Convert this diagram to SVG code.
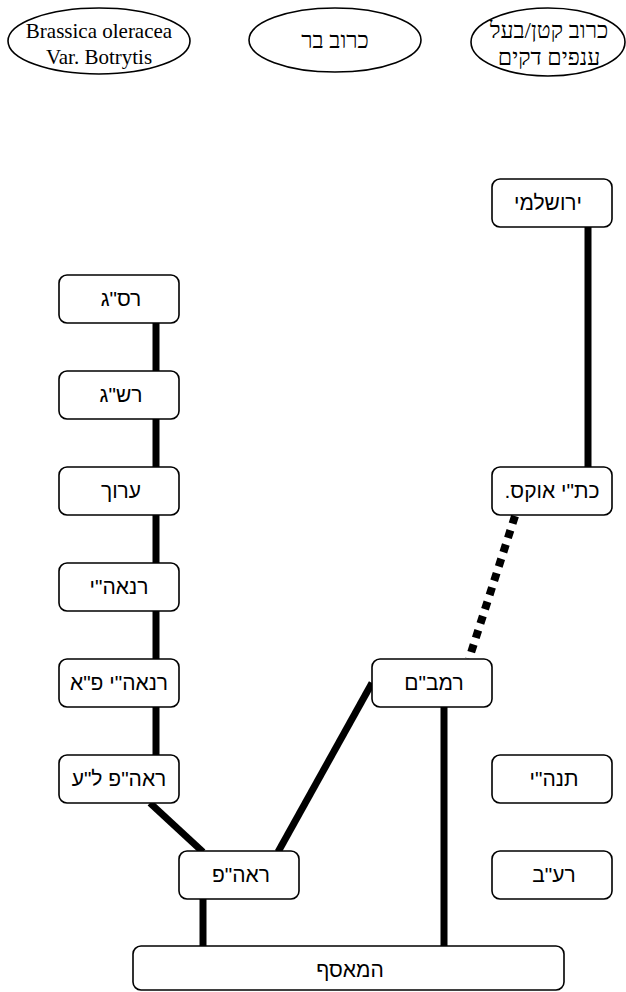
<svg xmlns="http://www.w3.org/2000/svg" width="626" height="992" viewBox="0 0 626 992">
<style>
.box{fill:#fff;stroke:#000;stroke-width:1.6}
.ell{fill:#fff;stroke:#000;stroke-width:1.6}
.t{font-family:"Liberation Sans","DejaVu Sans",sans-serif;font-size:21px;fill:#000;text-anchor:middle}
.s{font-family:"Liberation Serif","DejaVu Serif",serif;font-size:21px;fill:#000;text-anchor:middle}
.h{font-family:"Liberation Serif","DejaVu Serif",serif;font-size:23px;fill:#000;text-anchor:middle}
.c{stroke:#000;stroke-width:7;fill:none}
.d{stroke:#000;stroke-width:8;fill:none;stroke-dasharray:8 7}
</style>
<rect width="626" height="992" fill="#fff"/>
<g id="connectors">
<line class="c" x1="156" y1="323" x2="156" y2="371"/>
<line class="c" x1="156" y1="419" x2="156" y2="467"/>
<line class="c" x1="156" y1="515" x2="156" y2="563"/>
<line class="c" x1="156" y1="611" x2="156" y2="659"/>
<line class="c" x1="156" y1="707" x2="156" y2="755"/>
<line class="c" x1="150" y1="803" x2="203" y2="852"/>
<line class="c" x1="278" y1="852" x2="372" y2="683"/>
<line class="c" x1="203" y1="899" x2="203" y2="946"/>
<line class="c" x1="444" y1="707" x2="444" y2="946"/>
<line class="c" x1="588" y1="227" x2="588" y2="467"/>
<line class="d" x1="515" y1="516" x2="469" y2="659"/>
</g>
<g id="n-brassica"><ellipse class="ell" cx="99" cy="41" rx="91" ry="33"/><text class="s" x="99" y="38">Brassica oleracea</text><text class="s" x="99" y="64">Var. Botrytis</text></g>
<g id="n-wild"><ellipse class="ell" cx="335" cy="40" rx="86" ry="32"/><text class="h" x="335" y="48" direction="rtl">כרוב בר</text></g>
<g id="n-small"><ellipse class="ell" cx="548" cy="42" rx="77" ry="34"/><text class="h" x="549" y="38" direction="rtl">כרוב קטן/בעל</text><text class="h" x="549" y="65" direction="rtl">ענפים דקים</text></g>
<g id="n-yerushalmi"><rect class="box" x="492" y="179" width="120" height="48" rx="8"/><text class="t" x="548" y="210" direction="rtl">ירושלמי</text></g>
<g id="n-rasag"><rect class="box" x="59" y="275" width="120" height="48" rx="8"/><text class="t" x="121" y="306" direction="rtl">רס"ג</text></g>
<g id="n-rashag"><rect class="box" x="59" y="371" width="120" height="48" rx="8"/><text class="t" x="121" y="402" direction="rtl">רש"ג</text></g>
<g id="n-aruch"><rect class="box" x="59" y="467" width="120" height="48" rx="8"/><text class="t" x="121" y="498" direction="rtl">ערוך</text></g>
<g id="n-ranaah"><rect class="box" x="59" y="563" width="120" height="48" rx="8"/><text class="t" x="119" y="594" direction="rtl">רנאה"י</text></g>
<g id="n-ranaah-pa"><rect class="box" x="59" y="659" width="120" height="48" rx="8"/><text class="t" x="119" y="690" direction="rtl">רנאה"י פ"א</text></g>
<g id="n-raah-la"><rect class="box" x="59" y="755" width="120" height="48" rx="8"/><text class="t" x="119" y="786" direction="rtl">ראה"פ ל"ע</text></g>
<g id="n-oxford"><rect class="box" x="492" y="467" width="120" height="48" rx="8"/><text class="t" x="552" y="498" direction="rtl">כת"י אוקס.</text></g>
<g id="n-rambam"><rect class="box" x="372" y="659" width="120" height="48" rx="8"/><text class="t" x="434" y="690" direction="rtl">רמב"ם</text></g>
<g id="n-tanhay"><rect class="box" x="492" y="755" width="120" height="48" rx="8"/><text class="t" x="554" y="786" direction="rtl">תנה"י</text></g>
<g id="n-raav"><rect class="box" x="492" y="851" width="120" height="48" rx="8"/><text class="t" x="554" y="882" direction="rtl">רע"ב</text></g>
<g id="n-raah"><rect class="box" x="179" y="851" width="120" height="48" rx="8"/><text class="t" x="241" y="882" direction="rtl">ראה"פ</text></g>
<g id="n-measef"><rect class="box" x="133" y="946" width="431" height="44" rx="8"/><text class="t" x="350" y="977" direction="rtl">המאסף</text></g>
</svg>
